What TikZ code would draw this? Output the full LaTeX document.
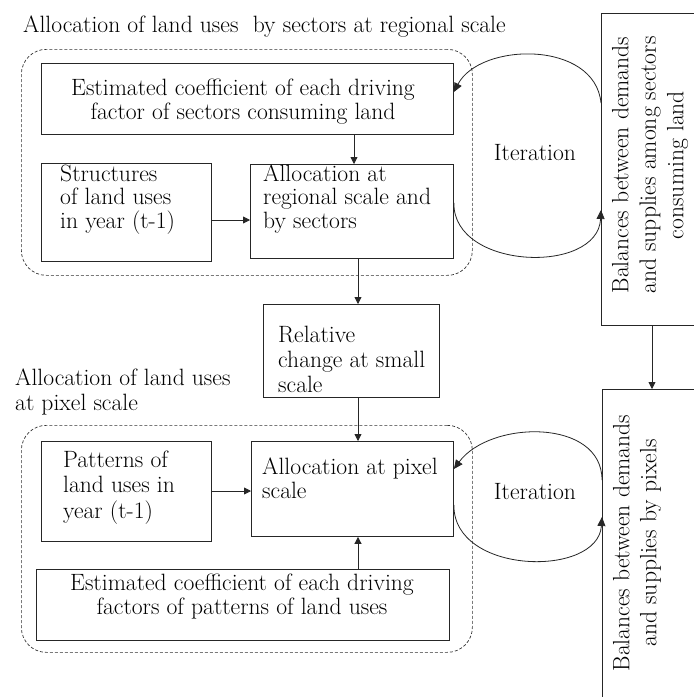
\documentclass[tikz,border=0pt]{standalone}
\usetikzlibrary{arrows.meta}
\newcommand\myfs[1]{\fontsize{23.6}{#1}\selectfont}
\begin{document}
\begin{tikzpicture}[x=1pt,y=-1pt,
  box/.style={draw=black!85, line width=0.9pt, inner sep=0pt},
  txt/.style={inner sep=0pt, align=left},
  ctxt/.style={inner sep=0pt, align=center},
  grp/.style={draw=black!80, dash pattern=on 3pt off 2pt, rounded corners=25pt, line width=0.7pt, inner sep=0pt},
  arr/.style={-{Triangle[length=7pt,width=7pt]}, line width=0.8pt, draw=black!85},
  loop/.style={-{Triangle[length=9pt,width=8pt]}, line width=0.8pt, draw=black!85},
]
\path[use as bounding box, fill=white] (0,0) rectangle (694,697);

% titles (anchor base = baseline of the last line)
\node[txt, anchor=base west, font=\myfs{25}] (T1) at (23,32) {Allocation of land uses\ \ by sectors at regional scale};
\node[txt, anchor=base west, font=\myfs{25}] (T2) at (15,410) {Allocation of land uses\\at pixel scale};

% dashed groups
\node[grp, anchor=north west, minimum width=451pt, minimum height=226pt] (G1) at (21,49) {};
\node[grp, anchor=north west, minimum width=451pt, minimum height=227pt] (G2) at (21,425) {};

% upper group boxes
\node[box, anchor=north west, minimum width=412pt, minimum height=71pt] (A) at (41,63) {};
\node[ctxt, anchor=base, font=\myfs{24}] (At) at (243,119) {Estimated coefficient of each driving\\factor of sectors consuming land};
\node[box, anchor=north west, minimum width=170pt, minimum height=98pt] (B) at (41,163) {};
\node[txt, anchor=base west, font=\myfs{23.5}] (Bt) at (60,228) {Structures\\of land uses\\in year (t-1)};
\node[box, anchor=north west, minimum width=203pt, minimum height=94pt] (C) at (250,164) {};
\node[txt, anchor=base west, font=\myfs{23.5}] (Ct) at (263,228) {Allocation at\\regional scale and\\by sectors};

% middle box
\node[box, anchor=north west, minimum width=176pt, minimum height=93pt] (R) at (263,304) {};
\node[txt, anchor=base west, font=\myfs{25}] (Rt) at (278,392) {Relative\\change at small\\scale};

% lower group boxes
\node[box, anchor=north west, minimum width=170pt, minimum height=100pt] (D) at (41,441) {};
\node[txt, anchor=base west, font=\myfs{25.5}] (Dt) at (63,518) {Patterns of\\land uses in\\year (t-1)};
\node[box, anchor=north west, minimum width=202pt, minimum height=95pt] (F) at (251,441) {};
\node[txt, anchor=base west, font=\myfs{24}] (Ft) at (262,498) {Allocation at pixel\\scale};
\node[box, anchor=north west, minimum width=413pt, minimum height=71pt] (E) at (36,569) {};
\node[ctxt, anchor=base, font=\myfs{23.5}] (Et) at (242,614) {Estimated coefficient of each driving\\factors of patterns of land uses};

% right boxes
\node[box, anchor=north west, minimum width=99pt, minimum height=312pt] (S1) at (601,13) {};
\node[ctxt, rotate=90, font=\myfs{27.5}] (S1t) at (650,165) {Balances between demands\\and supplies among sectors\\consuming land};
\node[box, anchor=north west, minimum width=99pt, minimum height=330pt] (S2) at (602,389) {};
\node[ctxt, rotate=90, font=\myfs{27}] (S2t) at (637,543) {Balances between demands\\and supplies by pixels};

% iteration labels
\node[font=\myfs{24}, inner sep=0pt] (I1) at (535,153) {Iteration};
\node[font=\myfs{24}, inner sep=0pt] (I2) at (535,492) {Iteration};

% straight connectors
\draw[arr] (A.south -| 354,0) -- (C.north -| 354,0);
\draw[arr] (B.east |- 0,220) -- (C.west |- 0,220);
\draw[arr] (C.south -| 358,0) -- (R.north -| 358,0);
\draw[arr] (R.south -| 358,0) -- (F.north -| 358,0);
\draw[arr] (D.east |- 0,491) -- (F.west |- 0,491);
\draw[arr] (E.north -| 358,0) -- (F.south -| 358,0);
\draw[arr] (S1.south -| 652,0) -- (S2.north -| 652,0);

% iteration loops, upper
\draw[loop] (S1.west |- 0,103) .. controls (595,40) and (480,42) .. (A.east |- 0,92);
\draw[loop] (C.east |- 0,203) .. controls (453,270) and (598,275) .. (S1.west |- 0,210);
% iteration loops, lower
\draw[loop] (S2.west |- 0,480) .. controls (602,418) and (490,420) .. (F.east |- 0,469);
\draw[loop] (F.east |- 0,505) .. controls (453,575) and (598,578) .. (S2.west |- 0,517);
\end{tikzpicture}
\end{document}
